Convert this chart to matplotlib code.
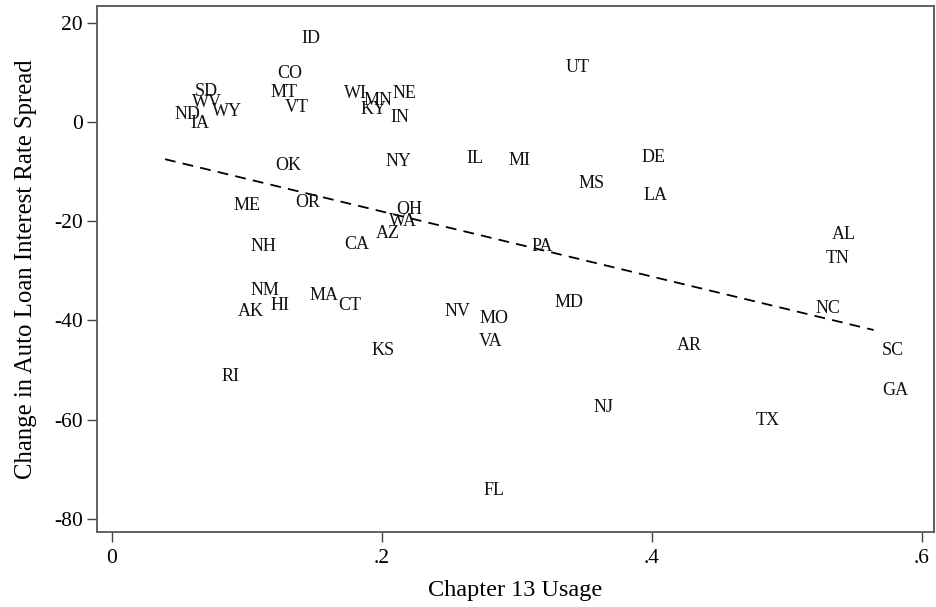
import numpy as np
import matplotlib
matplotlib.use("Agg")
import matplotlib.pyplot as plt

states = ["ID", "CO", "MT", "VT", "SD", "WV", "WY", "ND", "IA", "WI",
          "MN", "NE", "KY", "IN", "OK", "NY", "ME", "OR", "OH", "WA",
          "AZ", "CA", "NH", "NM", "MA", "CT", "HI", "AK", "UT", "IL",
          "MI", "DE", "MS", "LA", "NV", "MO", "MD", "VA", "AR", "NJ",
          "FL", "PA", "AL", "TN", "NC", "SC", "GA", "TX", "KS", "RI"]
ch13_usage = [0.1341, 0.1156, 0.1106, 0.1217, 0.0550, 0.0526, 0.0674, 0.0395, 0.0519, 0.1654,
              0.1802, 0.2015, 0.1773, 0.2000, 0.1148, 0.1958, 0.0839, 0.1291, 0.2044, 0.1990,
              0.1891, 0.1656, 0.0958, 0.0958, 0.1395, 0.1612, 0.1113, 0.0864, 0.3299, 0.2563,
              0.2876, 0.3861, 0.3390, 0.3871, 0.2395, 0.2656, 0.3212, 0.2649, 0.4119, 0.3501,
              0.2686, 0.3044, 0.5267, 0.5222, 0.5143, 0.5637, 0.5644, 0.4706, 0.1861, 0.0750]
spread_change = [17.3, 10.07, 6.24, 3.22, 6.44, 4.22, 2.41, 1.81, 0.0, 6.04,
                 4.63, 6.04, 3.01, 1.2, -8.47, -7.66, -16.53, -15.87, -17.28, -19.61,
                 -22.11, -24.25, -24.65, -33.52, -34.52, -36.54, -36.68, -37.75, 11.28, -7.0,
                 -7.32, -6.86, -12.04, -14.37, -37.75, -39.1, -36.07, -43.79, -44.6, -57.23,
                 -73.95, -24.65, -22.31, -27.15, -37.22, -45.6, -53.8, -59.85, -45.55, -50.79]
x_ticks = [0, 0.2, 0.4, 0.6]
x_tick_labels = ["0", ".2", ".4", ".6"]
y_ticks = [20, 0, -20, -40, -60, -80]

plt.rcParams['font.family'] = ['Liberation Serif', 'DejaVu Serif']
plt.rcParams['axes.unicode_minus'] = False

fig = plt.figure(figsize=(9.37, 6.07), dpi=100)
ax = fig.add_axes([96.7/937, 1 - 532.3/607, (934.3-96.7)/937, (532.3-6.3)/607])

x = np.array(ch13_usage)
y = np.array(spread_change)

for s, xi, yi in zip(states, x, y):
    ax.annotate(s, (xi, yi), xytext=(6.5, 0), textcoords='offset points',
                ha='left', va='center_baseline', fontsize=13, color='#111111')

slope, intercept = np.polyfit(x, y, 1)
xs = np.array([x.min(), x.max()])
ax.plot(xs, intercept + slope * xs, color='black', lw=1.3, dashes=(6, 4))

ax.set_xlim(-0.0111, 0.6093)
ax.set_ylim(-82.68, 23.30)
ax.set_xticks(x_ticks)
ax.set_xticklabels(x_tick_labels)
ax.set_yticks(y_ticks)
ax.tick_params(axis='both', length=7, width=1, color='#444444', labelsize=15.5)
ax.tick_params(axis='y', pad=3)
ax.tick_params(axis='x', pad=5)
for sp in ax.spines.values():
    sp.set_color('#555555')
    sp.set_linewidth(1.3)
ax.set_xlabel("Chapter 13 Usage", fontsize=17.5, labelpad=9)
ax.set_ylabel("Change in Auto Loan Interest Rate Spread", fontsize=17.8, labelpad=12)

fig.savefig("out.png", dpi=100)
